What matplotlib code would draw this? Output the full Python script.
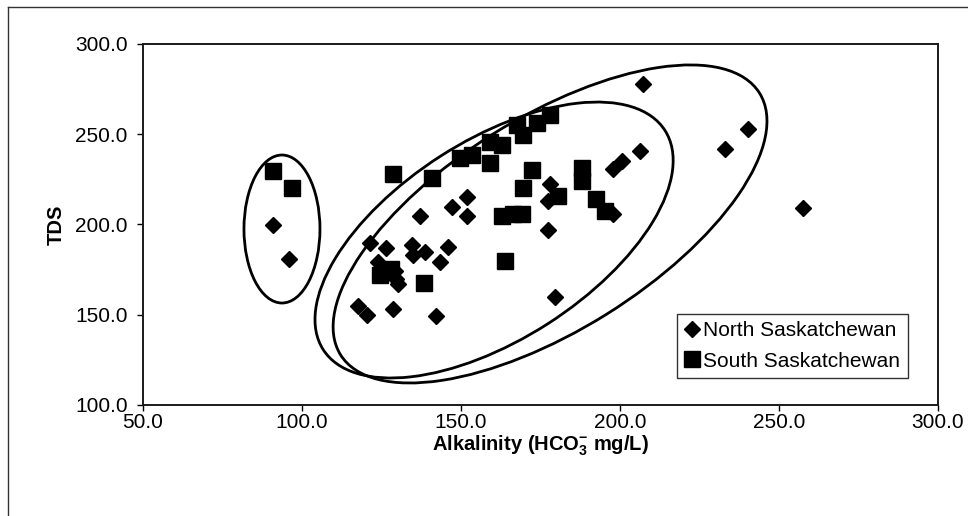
import matplotlib
matplotlib.use("Agg")
import matplotlib.pyplot as plt
from matplotlib.patches import Ellipse
from matplotlib.lines import Line2D
from matplotlib.transforms import ScaledTranslation

plt.rcParams['font.family'] = ['Liberation Sans', 'DejaVu Sans']
plt.rcParams['mathtext.fontset'] = 'custom'
plt.rcParams['mathtext.rm'] = 'Liberation Sans:bold'

# Alkalinity (HCO3- mg/L) and TDS for each river
north_alk = [91.0, 95.9, 117.7, 120.3, 128.7, 142.1, 121.4, 126.3, 134.5, 135.0,
             138.7, 145.8, 143.4, 124.0, 129.2, 130.3, 129.5, 137.1, 147.1, 151.8,
             151.8, 178.0, 177.4, 177.4, 179.6, 197.9, 197.9, 200.5, 206.3, 207.3,
             233.0, 240.3, 257.4]
north_tds = [199.6, 181.1, 154.6, 150.0, 153.1, 149.4, 189.6, 186.8, 188.6, 183.1,
             184.9, 187.7, 179.4, 179.4, 174.5, 167.0, 170.0, 204.6, 209.8, 215.4,
             204.6, 222.2, 212.9, 197.2, 159.8, 205.6, 230.6, 235.2, 240.7, 277.8,
             242.0, 252.8, 208.9]

south_alk = [91.0, 97.0, 128.7, 140.8, 124.5, 128.0, 138.5, 149.7, 153.4, 159.1,
             162.8, 159.1, 167.5, 169.6, 173.8, 178.0, 172.2, 187.9, 187.9, 169.6,
             180.6, 192.6, 195.3, 162.8, 166.5, 169.1, 163.8]
south_tds = [229.6, 220.0, 228.2, 225.9, 172.0, 175.5, 167.4, 236.7, 238.5, 245.9,
             244.0, 233.9, 255.1, 249.6, 256.1, 260.7, 230.0, 231.5, 224.1, 220.4,
             215.7, 213.9, 207.4, 204.6, 205.6, 205.6, 179.6]

series_labels = ["North Saskatchewan", "South Saskatchewan"]
x_ticks = [50, 100, 150, 200, 250, 300]
y_ticks = [100, 150, 200, 250, 300]

# Grouping outlines: centre (data units), width/height (inches), tilt (degrees)
group_centers = [(93.7, 197.5), (160.4, 191.4), (178.0, 200.3)]
group_sizes = [(0.76, 1.48), (4.06, 1.99), (4.94, 2.13)]
group_angles = [0, 32.7, 32.0]

fig = plt.figure(figsize=(9.68, 5.16), dpi=100)
ax = fig.add_axes([143 / 968, 111 / 516, 795 / 968, 361 / 516])

ax.plot(north_alk, north_tds, linestyle='none', marker='D', markersize=8.3,
        color='black', label=series_labels[0], zorder=2)
ax.plot(south_alk, south_tds, linestyle='none', marker='s', markersize=11,
        color='black', label=series_labels[1], zorder=2)

ax.set_xlim(50, 300)
ax.set_ylim(100, 300)
ax.set_xticks(x_ticks)
ax.set_yticks(y_ticks)
ax.set_xticklabels([f"{v:.1f}" for v in x_ticks])
ax.set_yticklabels([f"{v:.1f}" for v in y_ticks])
ax.tick_params(labelsize=15, length=4, width=1, direction='out')
ax.tick_params(axis='x', pad=2)
ax.tick_params(axis='y', pad=7)

for s in ax.spines.values():
    s.set_linewidth(1.4)
    s.set_color('#1a1a1a')

for (cx, cy), (w, h), ang in zip(group_centers, group_sizes, group_angles):
    tr = fig.dpi_scale_trans + ScaledTranslation(cx, cy, ax.transData)
    ax.add_patch(Ellipse((0, 0), w, h, angle=ang, transform=tr, fill=False,
                         edgecolor='black', linewidth=2.0, zorder=3))

ax.set_xlabel(r"Alkalinity (HCO$\mathrm{_3^{-}}$ mg/L)", fontsize=14.5,
              fontweight='bold', labelpad=1)
ax.set_ylabel("TDS", fontsize=14.5, fontweight='bold', labelpad=7)

leg = ax.legend(loc='lower right', bbox_to_anchor=(0.962, 0.075), borderaxespad=0,
                fontsize=15, frameon=True, fancybox=False, framealpha=1,
                edgecolor='#333333', borderpad=0.35, handlelength=0.65,
                handletextpad=0.25, labelspacing=0.55)
leg.get_frame().set_linewidth(1.0)

# outer chart border (left and top edges)
fig.add_artist(Line2D([8 / 968, 8 / 968], [0, 1 - 7 / 516], transform=fig.transFigure,
                      color='#333333', linewidth=1.0))
fig.add_artist(Line2D([8 / 968, 1], [1 - 7 / 516, 1 - 7 / 516], transform=fig.transFigure,
                      color='#333333', linewidth=1.0))

fig.savefig("out.png", dpi=100)
